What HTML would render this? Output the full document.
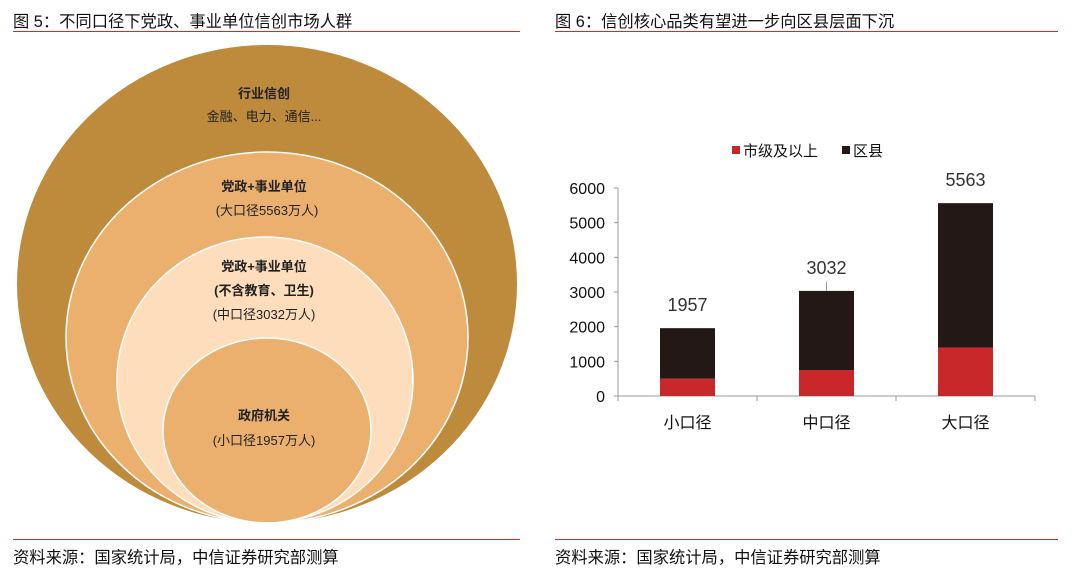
<!DOCTYPE html>
<html><head><meta charset="utf-8"><style>
body{margin:0;width:1080px;height:573px;background:#fff;font-family:"Liberation Sans","Noto Sans CJK SC",sans-serif;position:relative;overflow:hidden}
.t{position:absolute;font-size:16.3px;color:#111;white-space:nowrap}
.ln{position:absolute;height:1px;background:#c9302c}
</style></head><body>
<div class="t" style="left:13px;top:8px">图 5：不同口径下党政、事业单位信创市场人群</div>
<div class="ln" style="left:13px;top:31px;width:507px"></div>
<div class="t" style="left:555px;top:8px">图 6：信创核心品类有望进一步向区县层面下沉</div>
<div class="ln" style="left:555px;top:31px;width:503px"></div>
<div class="ln" style="left:13px;top:539px;width:507px"></div>
<div class="ln" style="left:555px;top:539px;width:503px"></div>
<div class="t" style="left:13px;top:544px">资料来源：国家统计局，中信证券研究部测算</div>
<div class="t" style="left:555px;top:544px">资料来源：国家统计局，中信证券研究部测算</div>

<svg width="540" height="540" style="position:absolute;left:0;top:0" font-family="Liberation Sans, Noto Sans CJK SC, sans-serif" text-anchor="middle" fill="#222">
<ellipse cx="267" cy="284" rx="250" ry="239" fill="#BE8A3C"/>
<ellipse cx="267" cy="337.5" rx="201" ry="185.5" fill="#EBB06D" stroke="#fff" stroke-width="1.5"/>
<ellipse cx="265" cy="380" rx="148" ry="143" fill="#FDDDBC" stroke="#fff" stroke-width="1.5"/>
<ellipse cx="267" cy="430.5" rx="104" ry="92.5" fill="#EBB06D" stroke="#fff" stroke-width="1.5"/>
<g font-size="13">
<text x="264" y="98" font-weight="bold">行业信创</text><text x="264" y="121">金融、电力、通信...</text>
<text x="264" y="191" font-weight="bold">党政+事业单位</text><text x="267" y="215">(大口径5563万人)</text>
<text x="264" y="271" font-weight="bold">党政+事业单位</text><text x="264" y="295" font-weight="bold">(不含教育、卫生)</text><text x="264" y="319">(中口径3032万人)</text>
<text x="264" y="420" font-weight="bold">政府机关</text><text x="264" y="445">(小口径1957万人)</text>
</g>
</svg>

<svg id="chart" width="540" height="440" style="position:absolute;left:540px;top:100px" font-family="Liberation Sans, Noto Sans CJK SC, sans-serif"></svg>
<script>
const categories=["小口径","中口径","大口径"];
const cityValues=[500,750,1400];
const countyValues=[1457,2282,4163];
const totalLabels=["1957","3032","5563"];
const yTicks=[0,1000,2000,3000,4000,5000,6000];
const svg=document.getElementById('chart');const NS='http://www.w3.org/2000/svg';
const ox=540,oy=100;
const x0=618-ox,x1=1035-ox,yBase=396-oy,yTop=188-oy,yMax=6000;
const y=v=>yBase-(v/yMax)*(yBase-yTop);
const band=(x1-x0)/categories.length;const bw=55;
function mk(t,a,txt){const e=document.createElementNS(NS,t);for(const k in a)e.setAttribute(k,a[k]);if(txt!==undefined)e.textContent=txt;svg.appendChild(e);return e;}
let e;
e=mk('line',{x1:x0,y1:yTop,x2:x0,y2:yBase,stroke:'#999'});


e=mk('line',{x1:x0,y1:yBase,x2:x1,y2:yBase,stroke:'#999'});


yTicks.forEach(v=>{
 e=mk('line',{x1:x0-4,y1:y(v),x2:x0,y2:y(v),stroke:'#999'});
 
 
 e=mk('text',{x:x0-13,y:y(v)+6,'text-anchor':'end','font-size':'16',fill:'#111'},String(v));
 
 
});
for(let i=0;i<=categories.length;i++){e=mk('line',{x1:x0+band*i,y1:yBase,x2:x0+band*i,y2:yBase+5,stroke:'#999'});
 
 }
categories.forEach((c,i)=>{
 const cx=x0+band*(i+0.5),bx=cx-bw/2;
 const tot=cityValues[i]+countyValues[i];
 e=mk('rect',{x:bx,y:y(cityValues[i]),width:bw,height:yBase-y(cityValues[i]),fill:'#C9282A'});
 
 
 e=mk('rect',{x:bx,y:y(tot),width:bw,height:y(cityValues[i])-y(tot),fill:'#231815'});
 
 
 if(i===1){e=mk('line',{x1:cx,y1:y(tot)-9,x2:cx,y2:y(tot),stroke:'#999'});
 
 }
 e=mk('text',{x:cx,y:y(tot)-17,'text-anchor':'middle','font-size':'18',fill:'#333'},totalLabels[i]);
 
 
 e=mk('text',{x:cx,y:yBase+32,'text-anchor':'middle','font-size':'16',fill:'#111'},c);
 
 
});
e=mk('rect',{x:732-ox,y:146-oy,width:8,height:8,fill:'#C9282A'});


e=mk('text',{x:743-ox,y:156-oy,'font-size':'15',fill:'#111'},'市级及以上');


e=mk('rect',{x:842-ox,y:146-oy,width:8,height:8,fill:'#231815'});


e=mk('text',{x:853-ox,y:156-oy,'font-size':'15',fill:'#111'},'区县');


</script>
</body></html>
